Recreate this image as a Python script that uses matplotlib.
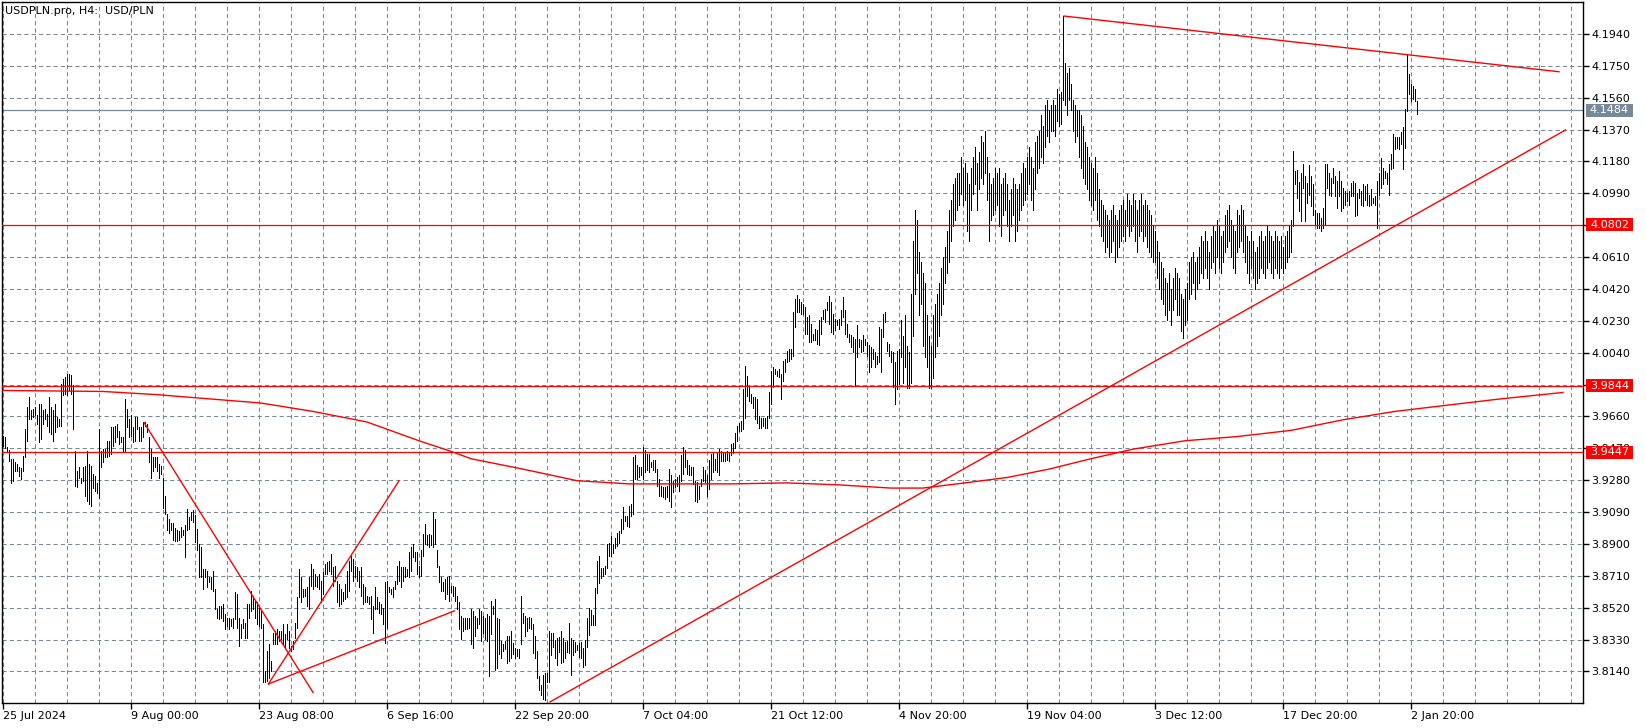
import numpy as np
import matplotlib.pyplot as plt
from matplotlib.patches import Rectangle

# USDPLN H4 bars, 25 Jul 2024 - 3 Jan 2025: high and low of every bar
high_1 = [3.9546, 3.9536, 3.9480, 3.9460, 3.9406, 3.9406, 3.9386, 3.9376, 3.9360, 3.9352,
          3.9426, 3.9586, 3.9716, 3.9776, 3.9696, 3.9706, 3.9716, 3.9666, 3.9736, 3.9736,
          3.9696, 3.9706, 3.9676, 3.9776, 3.9716, 3.9696, 3.9736, 3.9656, 3.9646, 3.9856,
          3.9886, 3.9896, 3.9916, 3.9916, 3.9906, 3.9846, 3.9456, 3.9336, 3.9356, 3.9296,
          3.9356, 3.9366, 3.9456, 3.9376, 3.9366, 3.9316, 3.9306, 3.9266, 3.9586, 3.9456,
          3.9466, 3.9466, 3.9516, 3.9516, 3.9596, 3.9596, 3.9606, 3.9616, 3.9576, 3.9536,
          3.9536, 3.9766, 3.9706, 3.9646, 3.9666, 3.9596, 3.9656, 3.9656, 3.9596, 3.9596,
          3.9626, 3.9626, 3.9616, 3.9536, 3.9466, 3.9416, 3.9416, 3.9416, 3.9376, 3.9366,
          3.9296, 3.9186, 3.9076, 3.9046, 3.9026, 3.9026, 3.8996, 3.8986, 3.8976]
low_1 = [3.9486, 3.9472, 3.9452, 3.9396, 3.9266, 3.9276, 3.9336, 3.9336, 3.9306, 3.9286,
         3.9336, 3.9416, 3.9516, 3.9646, 3.9646, 3.9656, 3.9666, 3.9616, 3.9506, 3.9526,
         3.9616, 3.9646, 3.9606, 3.9566, 3.9556, 3.9516, 3.9566, 3.9596, 3.9606, 3.9606,
         3.9786, 3.9796, 3.9786, 3.9816, 3.9796, 3.9586, 3.9246, 3.9240, 3.9296, 3.9266,
         3.9276, 3.9186, 3.9156, 3.9136, 3.9126, 3.9236, 3.9216, 3.9206, 3.9176, 3.9356,
         3.9386, 3.9416, 3.9416, 3.9426, 3.9436, 3.9486, 3.9506, 3.9536, 3.9496, 3.9506,
         3.9446, 3.9456, 3.9596, 3.9536, 3.9546, 3.9506, 3.9516, 3.9586, 3.9516, 3.9516,
         3.9536, 3.9606, 3.9566, 3.9386, 3.9296, 3.9336, 3.9356, 3.9336, 3.9296, 3.9316,
         3.9116, 3.9076, 3.8986, 3.8966, 3.8986, 3.8926, 3.8916, 3.8916, 3.8926]

high_2 = [3.9001, 3.8981, 3.9011, 3.9111, 3.9061, 3.9091, 3.9101, 3.9071, 3.8991, 3.8901,
          3.8881, 3.8751, 3.8751, 3.8741, 3.8701, 3.8701, 3.8741, 3.8631, 3.8511, 3.8531,
          3.8531, 3.8541, 3.8481, 3.8461, 3.8461, 3.8451, 3.8461, 3.8611, 3.8601, 3.8461,
          3.8421, 3.8451, 3.8431, 3.8541, 3.8541, 3.8621, 3.8591, 3.8561, 3.8551, 3.8531,
          3.8501, 3.8421, 3.8141, 3.8261, 3.8301, 3.8201, 3.8371, 3.8381, 3.8391, 3.8381,
          3.8381, 3.8421, 3.8361, 3.8421, 3.8381, 3.8291, 3.8321, 3.8431, 3.8581, 3.8751,
          3.8701, 3.8631, 3.8631, 3.8641, 3.8701, 3.8781, 3.8751, 3.8721, 3.8701, 3.8721,
          3.8681, 3.8731, 3.8781, 3.8791, 3.8801, 3.8841, 3.8761, 3.8771, 3.8681, 3.8661,
          3.8631, 3.8611, 3.8661, 3.8741, 3.8801, 3.8831, 3.8811, 3.8771, 3.8761, 3.8741]
low_2 = [3.8941, 3.8951, 3.8821, 3.8981, 3.8991, 3.9041, 3.9031, 3.8911, 3.8861, 3.8701,
         3.8701, 3.8631, 3.8701, 3.8641, 3.8671, 3.8631, 3.8621, 3.8511, 3.8461, 3.8451,
         3.8461, 3.8441, 3.8391, 3.8411, 3.8391, 3.8411, 3.8401, 3.8451, 3.8401, 3.8291,
         3.8341, 3.8401, 3.8341, 3.8341, 3.8461, 3.8501, 3.8511, 3.8461, 3.8421, 3.8411,
         3.8401, 3.8077, 3.8077, 3.8081, 3.8101, 3.8141, 3.8301, 3.8301, 3.8301, 3.8321,
         3.8331, 3.8301, 3.8281, 3.8331, 3.8281, 3.8261, 3.8271, 3.8341, 3.8401, 3.8581,
         3.8551, 3.8581, 3.8591, 3.8531, 3.8511, 3.8651, 3.8631, 3.8651, 3.8641, 3.8631,
         3.8551, 3.8601, 3.8721, 3.8721, 3.8741, 3.8721, 3.8651, 3.8681, 3.8551, 3.8531,
         3.8541, 3.8561, 3.8571, 3.8581, 3.8621, 3.8741, 3.8681, 3.8701, 3.8681, 3.8641]

high_3 = [3.8761, 3.8661, 3.8641, 3.8591, 3.8581, 3.8591, 3.8531, 3.8641, 3.8581, 3.8551,
          3.8541, 3.8521, 3.8671, 3.8681, 3.8641, 3.8631, 3.8641, 3.8681, 3.8771, 3.8801,
          3.8761, 3.8761, 3.8761, 3.8751, 3.8851, 3.8881, 3.8901, 3.8851, 3.8851, 3.8771,
          3.8861, 3.8961, 3.9021, 3.8951, 3.8961, 3.8951, 3.9091, 3.9051, 3.8861, 3.8771,
          3.8701, 3.8671, 3.8691, 3.8701, 3.8711, 3.8651, 3.8651, 3.8641, 3.8591, 3.8551,
          3.8471, 3.8461, 3.8461, 3.8461, 3.8461, 3.8511, 3.8501, 3.8471, 3.8461, 3.8511,
          3.8501, 3.8471, 3.8461, 3.8481, 3.8471, 3.8561, 3.8531, 3.8571, 3.8461, 3.8451,
          3.8321, 3.8301, 3.8321, 3.8351, 3.8351, 3.8381, 3.8311, 3.8281, 3.8271, 3.8271,
          3.8591, 3.8491, 3.8471, 3.8461, 3.8465, 3.8461, 3.8421, 3.8351, 3.8261, 3.8111]
low_3 = [3.8591, 3.8541, 3.8551, 3.8551, 3.8541, 3.8451, 3.8371, 3.8511, 3.8511, 3.8491,
         3.8481, 3.8421, 3.8311, 3.8401, 3.8611, 3.8601, 3.8581, 3.8631, 3.8661, 3.8681,
         3.8641, 3.8681, 3.8701, 3.8711, 3.8701, 3.8741, 3.8821, 3.8801, 3.8721, 3.8701,
         3.8711, 3.8831, 3.8901, 3.8891, 3.8881, 3.8891, 3.8881, 3.8901, 3.8761, 3.8671,
         3.8621, 3.8621, 3.8571, 3.8601, 3.8561, 3.8611, 3.8591, 3.8561, 3.8511, 3.8391,
         3.8331, 3.8381, 3.8391, 3.8391, 3.8401, 3.8301, 3.8281, 3.8351, 3.8401, 3.8421,
         3.8321, 3.8371, 3.8331, 3.8321, 3.8111, 3.8361, 3.8481, 3.8151, 3.8161, 3.8241,
         3.8221, 3.8261, 3.8271, 3.8191, 3.8201, 3.8221, 3.8241, 3.8221, 3.8231, 3.8221,
         3.8301, 3.8431, 3.8351, 3.8381, 3.8401, 3.8391, 3.8251, 3.8221, 3.8101, 3.8031]

high_4 = [3.8058, 3.8118, 3.8128, 3.8128, 3.8382, 3.8368, 3.8368, 3.8328, 3.8338, 3.8348,
          3.8378, 3.8338, 3.8318, 3.8322, 3.8428, 3.8338, 3.8328, 3.8318, 3.8298, 3.8308,
          3.8318, 3.8278, 3.8328, 3.8458, 3.8518, 3.8508, 3.8478, 3.8638, 3.8798, 3.8828,
          3.8758, 3.8758, 3.8768, 3.8898, 3.8908, 3.8948, 3.8898, 3.8938, 3.8968, 3.8978,
          3.9048, 3.9118, 3.9068, 3.9068, 3.9128, 3.9138, 3.9418, 3.9428, 3.9368, 3.9358,
          3.9358, 3.9478, 3.9458, 3.9438, 3.9438, 3.9388, 3.9398, 3.9398, 3.9348, 3.9288,
          3.9248, 3.9238, 3.9238, 3.9248, 3.9348, 3.9308, 3.9278, 3.9288, 3.9298, 3.9308,
          3.9428, 3.9478, 3.9458, 3.9398, 3.9368, 3.9358, 3.9358, 3.9278, 3.9268, 3.9248,
          3.9288, 3.9358, 3.9338, 3.9308, 3.9398, 3.9438, 3.9448, 3.9408, 3.9448, 3.9468]
low_4 = [3.7998, 3.7978, 3.7968, 3.8078, 3.8078, 3.8238, 3.8288, 3.8218, 3.8178, 3.8258,
         3.8188, 3.8198, 3.8218, 3.8258, 3.8248, 3.8118, 3.8238, 3.8258, 3.8268, 3.8228,
         3.8218, 3.8168, 3.8178, 3.8288, 3.8358, 3.8418, 3.8418, 3.8418, 3.8608, 3.8668,
         3.8698, 3.8708, 3.8718, 3.8758, 3.8828, 3.8828, 3.8848, 3.8878, 3.8888, 3.8908,
         3.8968, 3.8988, 3.9038, 3.9008, 3.8998, 3.9068, 3.9078, 3.9288, 3.9288, 3.9298,
         3.9308, 3.9288, 3.9328, 3.9338, 3.9328, 3.9358, 3.9338, 3.9328, 3.9248, 3.9188,
         3.9188, 3.9178, 3.9168, 3.9178, 3.9158, 3.9118, 3.9208, 3.9238, 3.9248, 3.9218,
         3.9278, 3.9318, 3.9358, 3.9318, 3.9308, 3.9308, 3.9258, 3.9158, 3.9148, 3.9168,
         3.9248, 3.9278, 3.9268, 3.9188, 3.9228, 3.9288, 3.9328, 3.9338, 3.9328, 3.9308]

high_5 = [3.9453, 3.9443, 3.9443, 3.9453, 3.9443, 3.9493, 3.9503, 3.9563, 3.9603, 3.9623,
          3.9633, 3.9823, 3.9963, 3.9903, 3.9843, 3.9793, 3.9773, 3.9773, 3.9763, 3.9663,
          3.9653, 3.9653, 3.9653, 3.9663, 3.9803, 3.9933, 3.9953, 3.9943, 3.9933, 3.9943,
          3.9913, 3.9993, 4.0003, 4.0053, 4.0063, 4.0063, 4.0283, 4.0363, 4.0383, 4.0363,
          4.0343, 4.0333, 4.0313, 4.0253, 4.0263, 4.0213, 4.0153, 4.0183, 4.0173, 4.0233,
          4.0253, 4.0293, 4.0303, 4.0343, 4.0377, 4.0343, 4.0273, 4.0243, 4.0233, 4.0243,
          4.0293, 4.0373, 4.0293, 4.0213, 4.0153, 4.0143, 4.0133, 4.0123, 4.0203, 4.0123,
          4.0113, 4.0143, 4.0123, 4.0103, 4.0083, 4.0073, 4.0063, 4.0043, 4.0023, 4.0193,
          4.0183, 4.0273, 4.0283, 4.0103, 4.0093, 4.0053, 4.0043, 3.9983, 4.0053, 4.0063]
low_5 = [3.9393, 3.9393, 3.9393, 3.9403, 3.9393, 3.9433, 3.9443, 3.9473, 3.9513, 3.9573,
         3.9573, 3.9583, 3.9653, 3.9783, 3.9753, 3.9743, 3.9713, 3.9643, 3.9623, 3.9593,
         3.9593, 3.9603, 3.9593, 3.9593, 3.9653, 3.9733, 3.9833, 3.9913, 3.9903, 3.9893,
         3.9763, 3.9873, 3.9923, 3.9983, 3.9993, 4.0003, 4.0023, 4.0193, 4.0283, 4.0283,
         4.0273, 4.0273, 4.0153, 4.0153, 4.0103, 4.0103, 4.0113, 4.0113, 4.0093, 4.0083,
         4.0153, 4.0243, 4.0223, 4.0293, 4.0213, 4.0163, 4.0153, 4.0173, 4.0203, 4.0183,
         4.0203, 4.0253, 4.0153, 4.0133, 4.0103, 4.0073, 4.0043, 3.9843, 4.0013, 4.0073,
         4.0043, 4.0053, 4.0083, 4.0023, 3.9923, 3.9953, 4.0003, 3.9953, 3.9973, 3.9983,
         3.9923, 4.0133, 4.0223, 4.0053, 4.0023, 3.9983, 3.9833, 3.9733, 3.9823, 3.9853]

high_6 = [4.0234, 4.0140, 4.0266, 4.0078, 4.0047, 4.0391, 4.0704, 4.0891, 4.0829,
          4.0641, 4.0578, 4.0516, 4.0453, 4.0266, 4.0140, 4.0078, 4.0266, 4.0328, 4.0391,
          4.0453, 4.0547, 4.0610, 4.0672, 4.0766, 4.0891, 4.0953, 4.1048, 4.1079, 4.1110,
          4.1110, 4.1204, 4.1142, 4.1173, 4.1110, 4.1048, 4.1142, 4.1204, 4.1267, 4.1173,
          4.1236, 4.1329, 4.1298, 4.1361, 4.1204, 4.1110, 4.1048, 4.1079, 4.1142, 4.1110,
          4.1142, 4.1048, 4.1079, 4.1110, 4.1048, 4.0953, 4.1017, 4.1079, 4.1048, 4.1017,
          4.1048, 4.1110, 4.1173, 4.1142, 4.1204, 4.1267, 4.1204, 4.1142, 4.1298, 4.1329,
          4.1361, 4.1455, 4.1392, 4.1517, 4.1548, 4.1486, 4.1517, 4.1548, 4.1517, 4.1611,
          4.1580, 4.1592, 4.2049, 4.1768, 4.1705, 4.1736, 4.1642, 4.1548, 4.1517, 4.1486,
          4.1486, 4.1455, 4.1392, 4.1298, 4.1267, 4.1204, 4.1173, 4.1142, 4.1204, 4.1110,
          4.1017, 4.0953, 4.0923, 4.0891, 4.0860, 4.0829, 4.0891, 4.0923, 4.0860, 4.0829,
          4.0891, 4.0923, 4.0953, 4.0891, 4.0985, 4.0953, 4.0923, 4.0985, 4.0953, 4.0891,
          4.0953, 4.0985, 4.0923, 4.0953, 4.0923, 4.0891, 4.0860, 4.0798, 4.0766, 4.0704,
          4.0641, 4.0578, 4.0547, 4.0485, 4.0453, 4.0516, 4.0422, 4.0485, 4.0547, 4.0516,
          4.0485, 4.0391, 4.0359, 4.0422, 4.0453, 4.0578, 4.0610, 4.0641, 4.0578, 4.0610,
          4.0672, 4.0735, 4.0704, 4.0766, 4.0704, 4.0641, 4.0735, 4.0798, 4.0766, 4.0829,
          4.0798, 4.0735, 4.0766, 4.0860, 4.0891, 4.0923, 4.0829, 4.0798, 4.0766, 4.0891,
          4.0860, 4.0923, 4.0891, 4.0798, 4.0735, 4.0704, 4.0766, 4.0704, 4.0641, 4.0672,
          4.0735, 4.0766, 4.0704, 4.0735, 4.0798, 4.0766, 4.0735, 4.0704, 4.0766, 4.0735,
          4.0704, 4.0735, 4.0672, 4.0735, 4.0766, 4.0798, 4.0829]
low_6 = [4.0015, 3.9859, 3.9953, 3.9828, 3.9828, 3.9859, 4.0140, 4.0391, 4.0516,
         4.0266, 4.0328, 4.0078, 4.0015, 3.9953, 3.9828, 3.9828, 3.9890, 4.0015, 4.0078,
         4.0140, 4.0266, 4.0328, 4.0453, 4.0516, 4.0578, 4.0704, 4.0798, 4.0829, 4.0891,
         4.0923, 4.0985, 4.0923, 4.0953, 4.0766, 4.0704, 4.0891, 4.0985, 4.1048, 4.0891,
         4.1017, 4.1079, 4.1048, 4.1110, 4.0953, 4.0704, 4.0829, 4.0860, 4.0891, 4.0923,
         4.0798, 4.0735, 4.0860, 4.0891, 4.0798, 4.0704, 4.0798, 4.0860, 4.0704, 4.0766,
         4.0829, 4.0891, 4.0923, 4.0953, 4.0985, 4.1048, 4.0953, 4.0891, 4.1017, 4.1110,
         4.1142, 4.1204, 4.1173, 4.1267, 4.1329, 4.1298, 4.1361, 4.1361, 4.1329, 4.1423,
         4.1392, 4.1405, 4.1548, 4.1517, 4.1455, 4.1548, 4.1486, 4.1361, 4.1298, 4.1329,
         4.1204, 4.1142, 4.1079, 4.1048, 4.1017, 4.0953, 4.0923, 4.0891, 4.0953, 4.0829,
         4.0798, 4.0735, 4.0704, 4.0641, 4.0672, 4.0610, 4.0641, 4.0704, 4.0578, 4.0610,
         4.0672, 4.0704, 4.0735, 4.0704, 4.0798, 4.0735, 4.0766, 4.0798, 4.0704, 4.0641,
         4.0735, 4.0766, 4.0704, 4.0735, 4.0672, 4.0641, 4.0610, 4.0578, 4.0578, 4.0485,
         4.0422, 4.0359, 4.0328, 4.0266, 4.0234, 4.0297, 4.0203, 4.0297, 4.0359, 4.0266,
         4.0266, 4.0172, 4.0128, 4.0203, 4.0234, 4.0359, 4.0391, 4.0453, 4.0359, 4.0422,
         4.0453, 4.0516, 4.0485, 4.0547, 4.0485, 4.0422, 4.0547, 4.0578, 4.0516, 4.0610,
         4.0547, 4.0516, 4.0578, 4.0641, 4.0672, 4.0704, 4.0610, 4.0547, 4.0516, 4.0641,
         4.0672, 4.0704, 4.0641, 4.0578, 4.0516, 4.0453, 4.0547, 4.0485, 4.0422, 4.0453,
         4.0485, 4.0547, 4.0516, 4.0485, 4.0547, 4.0578, 4.0516, 4.0485, 4.0547, 4.0516,
         4.0485, 4.0547, 4.0516, 4.0547, 4.0578, 4.0610, 4.0641]

high_7 = [4.1243, 4.1123, 4.1127, 4.1057, 4.1113, 4.1163, 4.1093, 4.1053, 4.1159, 4.1093,
          4.1043, 4.0893, 4.0873, 4.0873, 4.0843, 4.0903, 4.1167, 4.1163, 4.1113, 4.1083,
          4.1143, 4.1093, 4.1063, 4.1123, 4.1063, 4.1023, 4.1003, 4.0993, 4.1003, 4.1053,
          4.1063, 4.1053, 4.0993, 4.1013, 4.1003, 4.1043, 4.1033, 4.1043, 4.0983, 4.1013,
          4.0963, 4.0973, 4.1063, 4.1113, 4.1203, 4.1143, 4.1123, 4.1113, 4.1163, 4.1223,
          4.1343, 4.1323, 4.1323, 4.1323, 4.1353, 4.1387, 4.1493, 4.1823, 4.1703, 4.1643,
          4.1633, 4.1613, 4.1543]
low_7 = [4.0795, 4.1043, 4.0963, 4.0883, 4.0823, 4.1023, 4.0823, 4.0933, 4.0983, 4.0913,
         4.0863, 4.0803, 4.0783, 4.0783, 4.0763, 4.0783, 4.0803, 4.1023, 4.0983, 4.0973,
         4.1053, 4.0973, 4.0903, 4.0973, 4.0883, 4.0903, 4.0923, 4.0943, 4.0923, 4.0973,
         4.0973, 4.0853, 4.0863, 4.0963, 4.0923, 4.0913, 4.0953, 4.0923, 4.0913, 4.0923,
         4.0933, 4.0923, 4.0783, 4.0983, 4.1023, 4.1043, 4.1083, 4.1043, 4.0983, 4.1133,
         4.1143, 4.1253, 4.1263, 4.1253, 4.1283, 4.1133, 4.1263, 4.1483, 4.1583, 4.1543,
         4.1553, 4.1543, 4.1463]

# horizontal levels, current bid
levels = [4.0802, 3.9844, 3.9447]
bid = 4.1484

y_ticks = [3.8140, 3.8330, 3.8520, 3.8710, 3.8900, 3.9090, 3.9280, 3.9470, 3.9660, 3.9850,
           4.0040, 4.0230, 4.0420, 4.0610, 4.0800, 4.0990, 4.1180, 4.1370, 4.1560, 4.1750,
           4.1940]
x_labels = ['25 Jul 2024', '9 Aug 00:00', '23 Aug 08:00', '6 Sep 16:00', '22 Sep 20:00',
            '7 Oct 04:00', '21 Oct 12:00', '4 Nov 20:00', '19 Nov 04:00', '3 Dec 12:00',
            '17 Dec 20:00', '2 Jan 20:00']
bars_per_label = 64
bars_per_grid = 16

# moving average (drawn shifted forward), read at some bars
ma_idx = [0, 50, 77, 103, 129, 155, 182, 208, 224, 234, 260, 287, 313, 365, 392, 418,
          444, 460, 481, 502, 523, 544, 565, 591, 617, 644, 670, 696, 722, 749, 780]
ma_val = [3.9815, 3.9809, 3.9790, 3.9765, 3.9740, 3.9690, 3.9627, 3.9515, 3.9452, 3.9408,
          3.9346, 3.9277, 3.9258, 3.9258, 3.9264, 3.9252, 3.9233, 3.9233, 3.9264, 3.9296,
          3.9346, 3.9408, 3.9465, 3.9515, 3.9540, 3.9577, 3.9640, 3.9690, 3.9727, 3.9765,
          3.9803]

# trend lines: (bar, price) -> (bar, price)
trend_lines = [((530.5, 4.2047), (778.0, 4.1715)),
               ((273.5, 3.7958), (781.3, 4.1368)),
               ((70.5, 3.9624), (155.0, 3.8015)),
               ((132.7, 3.8065), (198.0, 3.9276)),
               ((132.7, 3.8065), (225.7, 3.8501))]

highs = np.array(high_1 + high_2 + high_3 + high_4 + high_5 + high_6 + high_7)
lows = np.array(low_1 + low_2 + low_3 + low_4 + low_5 + low_6 + low_7)
idx = np.arange(len(highs))

W, H = 1646, 728
fig = plt.figure(figsize=(W / 100, H / 100), dpi=100)
ax = fig.add_axes([2 / W, 25 / H, 1581 / W, 701 / H])
ax.set_xlim(-0.5, 790)
ax.set_ylim(3.79517, 4.21308)

grid_col = '#778899'
ax.set_axisbelow(True)
ax.set_xticks(np.arange(0, 790, bars_per_grid), minor=True)
ax.set_xticks(np.arange(len(x_labels)) * bars_per_label)
ax.set_xticklabels(x_labels, ha='left')
ax.set_yticks(y_ticks)
ax.set_yticklabels(['%.4f' % v for v in y_ticks])
ax.yaxis.tick_right()
ax.grid(True, which='both', axis='x', color=grid_col, lw=0.75, ls=(0, (4, 3)))
ax.grid(True, which='major', axis='y', color=grid_col, lw=0.75, ls=(0, (4, 3)))
ax.tick_params(axis='x', which='major', direction='out', length=4, width=1,
               labelsize=8, pad=2)
ax.tick_params(axis='x', which='minor', length=0)
ax.tick_params(axis='y', direction='out', length=4, width=1, labelsize=8, pad=2)
for s in ax.spines.values():
    s.set_color('black')
    s.set_linewidth(1)

# bars, 1 px wide
ax.vlines(idx, lows, highs, color='black', lw=0.55, antialiased=False, zorder=3)

# levels, bid, ma, trend lines
for lv in levels:
    ax.axhline(lv, color='red', lw=0.9, zorder=4)
ax.axhline(bid, color=grid_col, lw=0.9, zorder=2.5)
ax.plot(ma_idx, ma_val, color='red', lw=1, zorder=4)
for (x0, y0), (x1, y1) in trend_lines:
    ax.plot([x0, x1], [y0, y1], color='red', lw=1, zorder=4)

# price tags on the right axis
tr = ax.get_yaxis_transform()
half = 6.5 / 1677.4
for price, col in [(bid, grid_col)] + [(lv, 'red') for lv in levels]:
    ax.add_patch(Rectangle((1.0019, price - half), 0.0297, 2 * half, transform=tr,
                           facecolor=col, edgecolor='none', clip_on=False, zorder=10))
    ax.text(1.0019 + 0.0297 / 2, price, '%.4f' % price, transform=tr, color='white',
            fontsize=8, ha='center', va='center', clip_on=False, zorder=11)

ax.text(0.002, 0.995, 'USDPLN.pro, H4:  USD/PLN', transform=ax.transAxes,
        fontsize=8, ha='left', va='top', zorder=12)

fig.savefig('out.png', dpi=100)
